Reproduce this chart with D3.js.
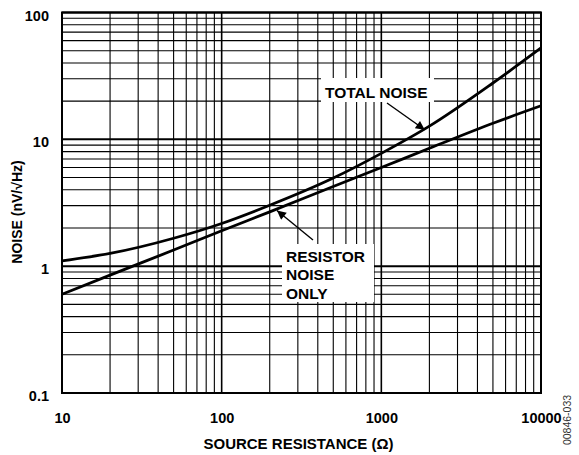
<!DOCTYPE html>
<html>
<head>
<meta charset="utf-8">
<script src="https://cdn.jsdelivr.net/npm/d3@7"></script>
<style>
  html, body { margin: 0; padding: 0; background: #fff; }
  svg { display: block; font-family: Arial, "Liberation Sans", Helvetica, sans-serif; }
</style>
</head>
<body>
<svg id="chart" width="579" height="455"></svg>
<script>
// Source resistance (ohms) at which the noise curves are sampled
const resistance = [10, 20, 50, 100, 200, 500, 1000, 2000, 5000, 10000];
// Thermal noise of the source resistor alone (nV/√Hz)
const resistorNoise = [0.6, 0.85, 1.34, 1.9, 2.68, 4.25, 6.0, 8.5, 13.4, 18.4];
// Total input-referred noise (nV/√Hz)
const totalNoise = [1.1, 1.26, 1.66, 2.17, 3.02, 4.95, 7.75, 12.7, 27.8, 52.5];

const xTickValues = [10, 100, 1000, 10000];
const xTickLabels = ["10", "100", "1000", "10000"];
const yTickValues = [0.1, 1, 10, 100];
const yTickLabels = ["0.1", "1", "10", "100"];

const svg = d3.select("#chart");
const plotLeft = 62, plotRight = 541, plotTop = 12.5, plotBottom = 393;

const x = d3.scaleLog().domain([10, 10000]).range([plotLeft, plotRight]);
const y = d3.scaleLog().domain([0.1, 100]).range([plotBottom, plotTop]);

const isDecade = d => Math.abs(Math.log10(d) - Math.round(Math.log10(d))) < 1e-9;

// Grid: every 1-9 step of each decade, decades drawn heavier
const grid = svg.append("g");
grid.selectAll("line.vx")
  .data(x.ticks())
  .join("line")
  .attr("x1", d => x(d)).attr("x2", d => x(d))
  .attr("y1", plotTop).attr("y2", plotBottom)
  .attr("stroke", "#000")
  .attr("stroke-width", d => isDecade(d) ? 1.6 : 1.1);
grid.selectAll("line.hy")
  .data(y.ticks())
  .join("line")
  .attr("y1", d => y(d)).attr("y2", d => y(d))
  .attr("x1", plotLeft).attr("x2", plotRight)
  .attr("stroke", "#000")
  .attr("stroke-width", d => isDecade(d) ? 2 : 1.1);

// Plot frame
svg.append("rect")
  .attr("x", plotLeft).attr("y", plotTop)
  .attr("width", plotRight - plotLeft).attr("height", plotBottom - plotTop)
  .attr("fill", "none").attr("stroke", "#000").attr("stroke-width", 2);

// Curves
const line = d3.line()
  .x((d, i) => x(resistance[i]))
  .y(d => y(d))
  .curve(d3.curveMonotoneX);

[resistorNoise, totalNoise].forEach(series => {
  svg.append("path")
    .attr("d", line(series))
    .attr("fill", "none")
    .attr("stroke", "#000")
    .attr("stroke-width", 2.8)
    .attr("stroke-linejoin", "round");
});

// Axes
const xAxis = d3.axisBottom(x)
  .tickValues(xTickValues)
  .tickFormat((d, i) => xTickLabels[i])
  .tickSize(0).tickPadding(0);
const gx = svg.append("g").attr("transform", `translate(0,${plotBottom + 20})`).call(xAxis);
gx.select(".domain").remove();
gx.selectAll("text")
  .attr("font-size", 14.5).attr("font-weight", "bold").attr("fill", "#000")
  .attr("font-family", "Arial, 'Liberation Sans', sans-serif");

const yAxis = d3.axisLeft(y)
  .tickValues(yTickValues)
  .tickFormat((d, i) => yTickLabels[i])
  .tickSize(0).tickPadding(0);
const gy = svg.append("g").attr("transform", `translate(${plotLeft - 13},3)`).call(yAxis);
gy.select(".domain").remove();
gy.selectAll("text")
  .attr("font-size", 14.5).attr("font-weight", "bold").attr("fill", "#000")
  .attr("font-family", "Arial, 'Liberation Sans', sans-serif");

// Axis titles
svg.append("text")
  .attr("x", (plotLeft + plotRight) / 2 - 3).attr("y", 448.5)
  .attr("text-anchor", "middle")
  .attr("font-size", 15).attr("font-weight", "bold")
  .text("SOURCE RESISTANCE (Ω)");

svg.append("text")
  .attr("transform", "translate(22,212) rotate(-90)")
  .attr("text-anchor", "middle")
  .attr("font-size", 14).attr("font-weight", "bold")
  .text("NOISE (nV/√Hz)");

// Figure code along the right edge
svg.append("text")
  .attr("transform", "translate(571,420) rotate(-90)")
  .attr("text-anchor", "middle")
  .attr("font-size", 10.5).attr("fill", "#333")
  .text("00846-033");

// Arrow marker
svg.append("defs").append("marker")
  .attr("id", "head")
  .attr("viewBox", "0 0 10 10")
  .attr("refX", 10).attr("refY", 5)
  .attr("markerWidth", 12).attr("markerHeight", 9)
  .attr("markerUnits", "userSpaceOnUse")
  .attr("orient", "auto")
  .append("path").attr("d", "M0,0 L10,5 L0,10 Z").attr("fill", "#000");

// Callouts: white box with text, arrow pointing at a curve
function callout(lines, bx, by, bw, bh, tx, ty, fromX, fromY, tipR, tipV) {
  svg.append("rect")
    .attr("x", bx).attr("y", by).attr("width", bw).attr("height", bh)
    .attr("fill", "#fff");
  lines.forEach((t, i) => {
    svg.append("text")
      .attr("x", tx).attr("y", ty + i * 18.5)
      .attr("font-size", 15.5).attr("font-weight", "bold")
      .text(t);
  });
  svg.append("line")
    .attr("x1", fromX).attr("y1", fromY)
    .attr("x2", x(tipR)).attr("y2", y(tipV))
    .attr("stroke", "#000").attr("stroke-width", 1.4)
    .attr("marker-end", "url(#head)");
}

callout(["TOTAL NOISE"], 321, 78, 113, 24, 325, 97.5, 387, 103, 1870, 11.9);
callout(["RESISTOR", "NOISE", "ONLY"], 282, 244, 92, 58, 286, 261.5, 313, 240, 222, 2.75);
</script>
</body>
</html>
